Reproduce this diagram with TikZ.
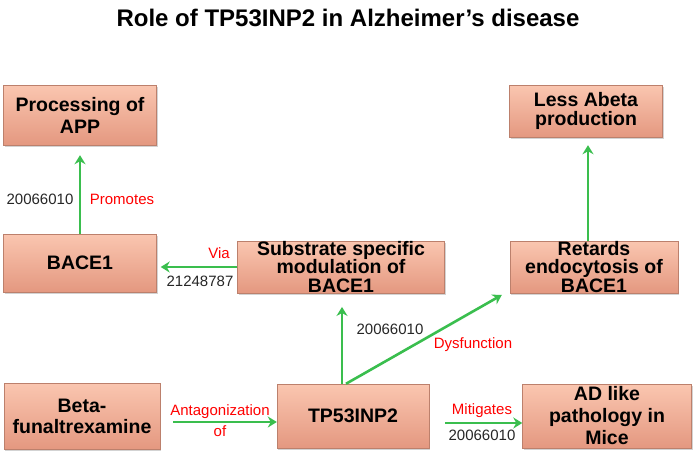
\documentclass[tikz,border=0pt]{standalone}
\usepackage{fontspec}
\setmainfont{Liberation Sans}
\usetikzlibrary{arrows.meta,shadows}
\definecolor{boxtop}{RGB}{250,198,176}
\definecolor{boxbot}{RGB}{228,152,128}
\definecolor{boxline}{RGB}{188,128,108}
\definecolor{arrowgreen}{RGB}{58,190,78}
\tikzset{
 box/.style={draw=boxline,top color=boxtop,bottom color=boxbot,inner sep=0pt,align=center,
  font=\fontsize{19.5}{21}\selectfont\bfseries,
  drop shadow={shadow xshift=1pt,shadow yshift=-2pt,opacity=0.35}},
 link/.style={draw=arrowgreen,line width=2.6pt,-{Stealth[length=9pt,width=11pt]}},
 pmid/.style={font=\fontsize{15}{21}\selectfont,text=black!85},
 verb/.style={font=\fontsize{15}{21}\selectfont,text=red,align=center}
}
\begin{document}
\begin{tikzpicture}[x=1pt,y=-1pt]
 \useasboundingbox (0,0) rectangle (697,456);
 \node[font=\fontsize{24}{28}\selectfont\bfseries] (title) at (348,18) {Role of TP53INP2 in Alzheimer’s disease};
 % boxes
 \node[box,minimum width=153,minimum height=60,font=\fontsize{19.5}{22}\selectfont\bfseries] (app) at (80,115) {Processing of\\APP};
 \node[box,minimum width=153,minimum height=58] (bace) at (80,263) {BACE1};
 \node[box,minimum width=207,minimum height=50,font=\fontsize{19.5}{18.6}\selectfont\bfseries] (subst) at (341,267) {Substrate specific\\modulation of\\BACE1};
 \node[box,minimum width=168,minimum height=51,font=\fontsize{19.5}{18.6}\selectfont\bfseries] (retard) at (594,267) {Retards\\endocytosis of\\BACE1};
 \node[box,minimum width=153,minimum height=52,font=\fontsize{19.5}{18.6}\selectfont\bfseries] (abeta) at (586,111) {Less Abeta\\production};
 \node[box,minimum width=156,minimum height=66] (beta) at (82,416) {Beta-\\funaltrexamine};
 \node[box,minimum width=152,minimum height=64] (tp) at (353,416) {TP53INP2};
 \node[box,minimum width=169,minimum height=64,font=\fontsize{19.5}{22}\selectfont\bfseries] (ad) at (607,416) {AD like\\pathology in\\Mice};
 % arrows
 \draw[link,shorten >=10pt] (bace.north) -- (app.south);
 \draw[link,shorten >=4pt] (subst.west) -- (subst.west -| bace.east);
 \draw[link,shorten >=14pt] ([xshift=-11pt]tp.north) -- ([xshift=-11pt]tp.north |- subst.south);
 \draw[link] ([xshift=-7pt]tp.north) -- ([xshift=-8pt,yshift=-2pt]retard.south west);
 \draw[link,shorten >=8pt] ([xshift=-6pt]retard.north) -- ([xshift=-6pt]retard.north |- abeta.south);
 \draw[link,shorten <=13pt] ([yshift=-6pt]beta.east) -- ([yshift=-6pt]tp.west);
 \draw[link,shorten <=16pt] ([yshift=-7pt]tp.east) -- ([yshift=-7pt]ad.west);
 % labels
 \node[pmid] (p1) at (40,199) {20066010};
 \node[verb] (v1) at (122,199) {Promotes};
 \node[verb] (v2) at (219,253) {Via};
 \node[pmid] (p2) at (200,281) {21248787};
 \node[pmid] (p3) at (390,329) {20066010};
 \node[verb] (v3) at (473,345) {Dysfunction};
 \node[verb] (v4) at (220,421) {Antagonization\\of};
 \node[verb] (v5) at (482,411) {Mitigates};
 \node[pmid] (p4) at (482,435) {20066010};
\end{tikzpicture}
\end{document}
